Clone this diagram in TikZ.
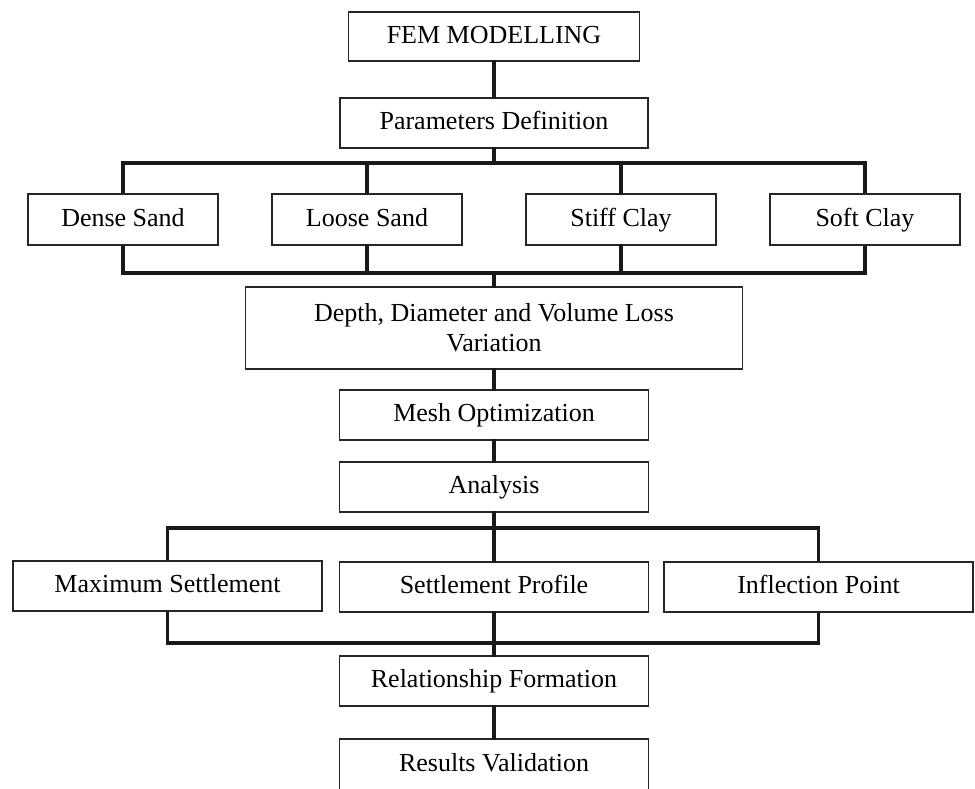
\documentclass[tikz,border=0pt]{standalone}
\usepackage{fontspec}
\setmainfont{Liberation Serif}
\begin{document}
\begin{tikzpicture}[x=1pt,y=-1pt,
  box/.style={draw=black!85, line width=1.4pt, fill=white, inner sep=0pt, font=\fontsize{26}{30}\selectfont, align=center, text height=18pt, text depth=5pt},
  conn/.style={draw=black!90, line width=3.2pt, line cap=rect}]
\clip (0,0) rectangle (975,788);
\useasboundingbox (0,0) rectangle (975,788);
\fill[white] (0,0) rectangle (975,788);
\coordinate (t1) at (0,163);
\coordinate (b1) at (0,273);
\coordinate (t2) at (0,528);
\coordinate (b2) at (0,643);
% nodes
\node[box, minimum width=291pt, minimum height=49pt] (fem) at (494,36.5) {FEM MODELLING};
\node[box, minimum width=308pt, minimum height=50pt] (params) at (494,123) {Parameters Definition};
\node[box, minimum width=190pt, minimum height=51pt] (dense) at (123,219.5) {Dense Sand};
\node[box, minimum width=190pt, minimum height=51pt] (loose) at (367,219.5) {Loose Sand};
\node[box, minimum width=190pt, minimum height=51pt] (stiff) at (621,219.5) {Stiff Clay};
\node[box, minimum width=190pt, minimum height=51pt] (soft) at (865,219.5) {Soft Clay};
\node[box, minimum width=497pt, minimum height=82pt, text height=, text depth=] (depth) at (494,328) {Depth, Diameter and Volume Loss\\Variation};
\node[box, minimum width=309pt, minimum height=50pt] (mesh) at (494,415) {Mesh Optimization};
\node[box, minimum width=309pt, minimum height=50pt] (anal) at (494,487) {Analysis};
\node[box, minimum width=309pt, minimum height=50pt] (maxs) at (167.5,586) {Maximum Settlement};
\node[box, minimum width=309pt, minimum height=50pt] (prof) at (494,587) {Settlement Profile};
\node[box, minimum width=309pt, minimum height=50pt] (infl) at (818.5,587) {Inflection Point};
\node[box, minimum width=309pt, minimum height=50pt] (rel) at (494,681) {Relationship Formation};
\node[box, minimum width=309pt, minimum height=52pt] (res) at (494,765) {Results Validation};
% connectors
\draw[conn] (fem.south) -- (params.north);
\draw[conn] (params.south) -- (params.south |- t1);
\draw[conn, line cap=butt] (dense.north) -- (dense.north |- t1) -- (soft.north |- t1) -- (soft.north);
\draw[conn] (loose.north) -- (loose.north |- t1);
\draw[conn] (stiff.north) -- (stiff.north |- t1);
\draw[conn, line cap=butt] (dense.south) -- (dense.south |- b1) -- (soft.south |- b1) -- (soft.south);
\draw[conn] (loose.south) -- (loose.south |- b1);
\draw[conn] (stiff.south) -- (stiff.south |- b1);
\draw[conn] (depth.north) -- (depth.north |- b1);
\draw[conn] (depth.south) -- (mesh.north);
\draw[conn] (mesh.south) -- (anal.north);
\draw[conn] (anal.south) -- (anal.south |- t2);
\draw[conn, line cap=butt] (maxs.north) -- (maxs.north |- t2) -- (infl.north |- t2) -- (infl.north);
\draw[conn] (prof.north) -- (prof.north |- t2);
\draw[conn, line cap=butt] (maxs.south) -- (maxs.south |- b2) -- (infl.south |- b2) -- (infl.south);
\draw[conn] (prof.south) -- (prof.south |- b2);
\draw[conn] (rel.north) -- (rel.north |- b2);
\draw[conn] (rel.south) -- (res.north);
\end{tikzpicture}
\end{document}
